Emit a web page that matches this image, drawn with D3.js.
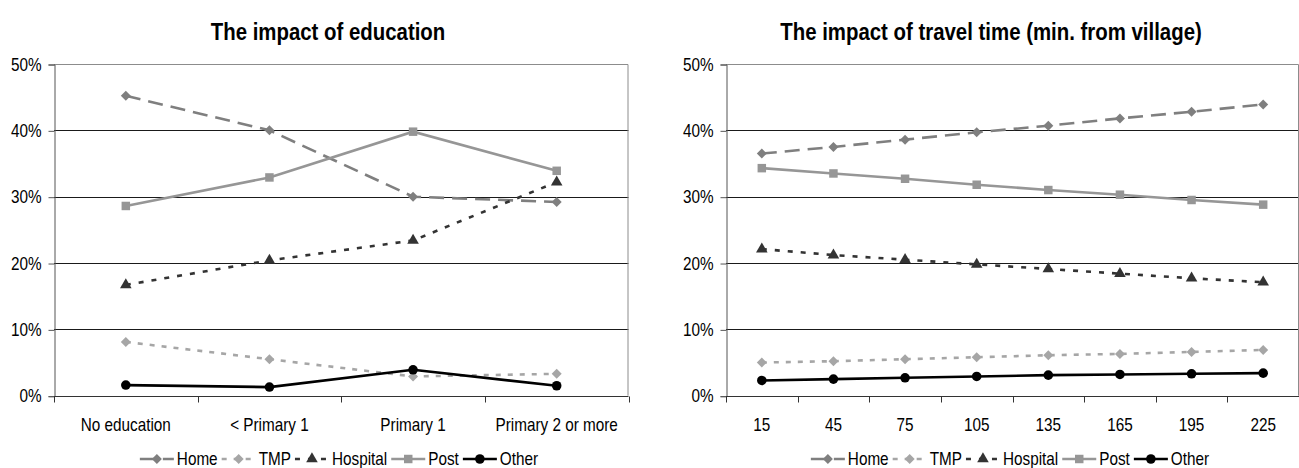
<!DOCTYPE html>
<html>
<head>
<meta charset="utf-8">
<script src="https://cdn.jsdelivr.net/npm/d3@7"></script>
<style>
  body { margin: 0; background: #fff; }
  svg text { font-family: "Liberation Sans", Arial, sans-serif; fill: #000; }
</style>
</head>
<body>
<svg id="chart" width="1299" height="468"></svg>
<script>
// ---- data ----
var eduLabels = ["No education", "< Primary 1", "Primary 1", "Primary 2 or more"];
var eduHome = [45.2, 40.0, 30.0, 29.2];
var eduTMP = [8.1, 5.5, 2.9, 3.3];
var eduHospital = [16.7, 20.4, 23.4, 32.2];
var eduPost = [28.6, 32.9, 39.8, 33.9];
var eduOther = [1.6, 1.3, 3.9, 1.5];

var travelLabels = ["15", "45", "75", "105", "135", "165", "195", "225"];
var travelHome = [36.5, 37.5, 38.6, 39.7, 40.7, 41.8, 42.8, 43.9];
var travelTMP = [5.0, 5.2, 5.5, 5.8, 6.1, 6.3, 6.6, 6.9];
var travelHospital = [22.1, 21.2, 20.5, 19.8, 19.1, 18.4, 17.7, 17.1];
var travelPost = [34.3, 33.5, 32.7, 31.8, 31.0, 30.3, 29.5, 28.8];
var travelOther = [2.3, 2.5, 2.7, 2.9, 3.1, 3.2, 3.3, 3.4];

var yTicks = [0, 10, 20, 30, 40, 50];
var seriesNames = ["Home", "TMP", "Hospital", "Post", "Other"];

// line / marker styles per series (diamond = square turned 45deg)
var styles = {
  Home:     { color: "#7f7f7f", dash: "15,8", symbol: d3.symbolSquare,   size: 50, rot: 45 },
  TMP:      { color: "#a6a6a6", dash: "5,7",  symbol: d3.symbolSquare,   size: 50, rot: 45 },
  Hospital: { color: "#333333", dash: "5,8",  symbol: d3.symbolTriangle, size: 58, rot: 0 },
  Post:     { color: "#969696", dash: null,   symbol: d3.symbolSquare,   size: 72, rot: 0 },
  Other:    { color: "#000000", dash: null,   symbol: d3.symbolCircle,   size: 72, rot: 0 }
};

var SQ = 0.85; // horizontal squeeze to get the narrow look of the original font

var svg = d3.select("#chart");

// move x/y into a transform so the glyphs can be squeezed around their anchor
function squeeze(sel){
  sel.each(function(){
    var t = d3.select(this);
    var x = +t.attr("x") || 0, y = +t.attr("y") || 0;
    t.attr("x", 0).attr("y", 0)
      .attr("transform", "translate(" + x + "," + y + ") scale(" + SQ + ",1)");
  });
}

function drawPanel(opts){
  var g = svg.append("g");
  var x = d3.scaleBand().domain(opts.labels).range([opts.left, opts.right]);
  var y = d3.scaleLinear().domain([0, 50]).range([opts.bottom, opts.top]);

  // title
  g.append("text")
    .attr("x", opts.titleX).attr("y", 40)
    .attr("text-anchor", "middle")
    .style("font-size", "24px").style("font-weight", "bold")
    .text(opts.title)
    .call(squeeze);

  // gridlines
  g.selectAll("line.grid").data(yTicks.filter(function(d){ return d > 0 && d < 50; }))
    .enter().append("line")
    .attr("x1", opts.left).attr("x2", opts.right)
    .attr("y1", function(d){ return Math.round(y(d)) + 0.5; })
    .attr("y2", function(d){ return Math.round(y(d)) + 0.5; })
    .attr("stroke", "#1a1a1a").attr("stroke-width", 1);

  // plot border (top + right)
  g.append("path")
    .attr("d", "M" + opts.left + "," + (Math.round(y(50)) + 0.5) + "H" + (opts.right - 0.5) + "V" + opts.bottom)
    .attr("fill", "none").attr("stroke", "#8c8c8c").attr("stroke-width", 1);

  // y axis
  var yAxis = d3.axisLeft(y).tickValues(yTicks).tickSize(6).tickPadding(7)
    .tickFormat(function(d){ return d + "%"; });
  var ya = g.append("g").attr("transform", "translate(" + (opts.left + 0.5) + ",0.5)").call(yAxis);
  ya.select(".domain").attr("stroke", "#555");
  ya.selectAll(".tick line").attr("stroke", "#555");
  ya.selectAll("text").style("font-size", "18px").attr("fill", "#000").call(squeeze);

  // x axis: ticks on band boundaries
  var xa = g.append("g").attr("transform", "translate(0," + (Math.round(y(0)) + 0.5) + ")");
  xa.append("line").attr("x1", opts.left).attr("x2", opts.right).attr("stroke", "#333");
  var bounds = opts.labels.map(function(d){ return x(d); }).concat([opts.right]);
  xa.selectAll("line.tk").data(bounds).enter().append("line")
    .attr("x1", function(d){ return Math.round(d) + 0.5; })
    .attr("x2", function(d){ return Math.round(d) + 0.5; })
    .attr("y1", 0).attr("y2", 6).attr("stroke", "#333");
  xa.selectAll("text").data(opts.labels).enter().append("text")
    .attr("x", function(d){ return x(d) + x.bandwidth() / 2; })
    .attr("y", 34)
    .attr("text-anchor", "middle")
    .style("font-size", "18px")
    .text(function(d){ return d; })
    .call(squeeze);

  // series
  var line = d3.line()
    .x(function(d, i){ return x(opts.labels[i]) + x.bandwidth() / 2; })
    .y(function(d){ return y(d); });

  seriesNames.forEach(function(name){
    var st = styles[name];
    var vals = opts.series[name];
    g.append("path")
      .attr("d", line(vals))
      .attr("fill", "none")
      .attr("stroke", st.color)
      .attr("stroke-width", 2.6)
      .attr("stroke-dasharray", st.dash);
    g.selectAll("path.m-" + name).data(vals).enter().append("path")
      .attr("d", d3.symbol().type(st.symbol).size(st.size))
      .attr("transform", function(d, i){
        return "translate(" + (x(opts.labels[i]) + x.bandwidth() / 2) + "," + y(d) + ") rotate(" + st.rot + ")";
      })
      .attr("fill", st.color);
  });

  // legend
  var leg = g.append("g");
  var pos = 0;
  seriesNames.forEach(function(name){
    var st = styles[name];
    var item = leg.append("g").attr("transform", "translate(" + pos + ",0)");
    item.append("line")
      .attr("x1", 0).attr("x2", 34).attr("y1", 0).attr("y2", 0)
      .attr("stroke", st.color).attr("stroke-width", 2.6)
      .attr("stroke-dasharray", st.dash);
    item.append("path")
      .attr("d", d3.symbol().type(st.symbol).size(st.size))
      .attr("transform", "translate(17,0) rotate(" + st.rot + ")")
      .attr("fill", st.color);
    var t = item.append("text")
      .attr("x", 37).attr("y", 6)
      .style("font-size", "18px")
      .text(name);
    var w = t.node().getComputedTextLength() * SQ;
    t.call(squeeze);
    pos += 37 + w + 4;
  });
  leg.attr("transform", "translate(" + (opts.legendX - pos / 2) + ",459)");
}

drawPanel({
  title: "The impact of education",
  titleX: 328,
  labels: eduLabels,
  left: 54, right: 628.5, top: 64, bottom: 395.7,
  legendX: 341,
  series: { Home: eduHome, TMP: eduTMP, Hospital: eduHospital, Post: eduPost, Other: eduOther }
});

drawPanel({
  title: "The impact of travel time (min. from village)",
  titleX: 991,
  labels: travelLabels,
  left: 726, right: 1299, top: 64, bottom: 395.7,
  legendX: 1012,
  series: { Home: travelHome, TMP: travelTMP, Hospital: travelHospital, Post: travelPost, Other: travelOther }
});
</script>
</body>
</html>
